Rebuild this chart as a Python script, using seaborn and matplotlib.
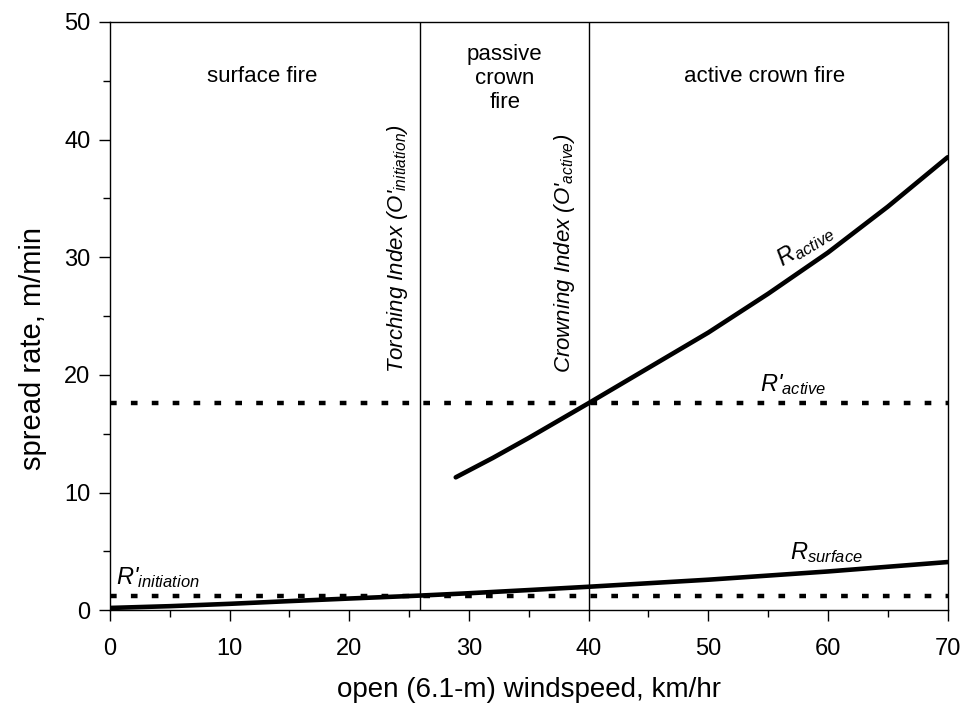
import matplotlib
matplotlib.use("Agg")
import matplotlib.pyplot as plt
from matplotlib.ticker import MultipleLocator
import seaborn as sns
import pandas as pd

# ---- data ----
surface_x = [0, 5, 10, 15, 20, 25.9, 30, 35, 40, 45, 50, 55, 60, 65, 70]
surface_y = [0.2, 0.35, 0.55, 0.78, 1.0, 1.25, 1.45, 1.72, 2.0, 2.3, 2.6, 2.95, 3.3, 3.7, 4.1]
active_x = [28.9, 32, 35, 40, 45, 50, 55, 60, 65, 70]
active_y = [11.3, 12.95, 14.65, 17.6, 20.6, 23.6, 26.9, 30.4, 34.3, 38.5]
r_initiation = 1.25
r_active_crit = 17.6
torching_index = 25.9
crowning_index = 40.0
x_ticks = [0, 10, 20, 30, 40, 50, 60, 70]
y_ticks = [0, 10, 20, 30, 40, 50]

sns.set_theme(style="ticks")
plt.rcParams["font.family"] = ["Liberation Sans", "DejaVu Sans"]
plt.rcParams["mathtext.fontset"] = "custom"
plt.rcParams["mathtext.rm"] = "Liberation Sans"
plt.rcParams["mathtext.it"] = "Liberation Sans:italic"
plt.rcParams["mathtext.default"] = "it"
plt.rcParams["text.color"] = "black"
plt.rcParams["axes.labelcolor"] = "black"

fig = plt.figure(figsize=(9.64, 7.08), dpi=100)
ax = fig.add_axes([0.114, 0.138, 0.869, 0.831])

surf = pd.DataFrame({"x": surface_x, "y": surface_y})
act = pd.DataFrame({"x": active_x, "y": active_y})
sns.lineplot(data=surf, x="x", y="y", ax=ax, color="black", lw=3.3, sort=True)
sns.lineplot(data=act, x="x", y="y", ax=ax, color="black", lw=3.3, sort=True)

dots = (0, (1.5, 3.2))
ax.axhline(r_initiation, color="black", lw=3.2, ls=dots, dash_capstyle="butt")
ax.axhline(r_active_crit, color="black", lw=3.2, ls=dots, dash_capstyle="butt")
ax.axvline(torching_index, color="black", lw=1.0)
ax.axvline(crowning_index, color="black", lw=1.0)

ax.set_xlim(0, 70)
ax.set_ylim(0, 50)
ax.set_xticks(x_ticks)
ax.set_yticks(y_ticks)
ax.xaxis.set_minor_locator(MultipleLocator(5))
ax.yaxis.set_minor_locator(MultipleLocator(5))
ax.tick_params(which="major", direction="out", length=8, width=1, labelsize=17,
               color="black", labelcolor="black")
ax.tick_params(which="minor", direction="out", length=5, width=1, color="black")
ax.tick_params(axis="x", which="major", pad=12)
ax.tick_params(axis="y", which="major", pad=6)
for s in ax.spines.values():
    s.set_visible(True)
    s.set_color("black")
    s.set_linewidth(1.0)

ax.set_xlabel("open (6.1-m) windspeed, km/hr", fontsize=20, color="black", va="center")
ax.set_ylabel("spread rate, m/min", fontsize=21, color="black", va="center")
ax.xaxis.set_label_coords(0.5, -0.136)
ax.yaxis.set_label_coords(-0.092, 0.445)

# region labels
ax.text(12.7, 45.4, "surface fire", fontsize=16, ha="center", va="center", color="black")
ax.text(33.0, 45.2, "passive\ncrown\nfire", fontsize=16, ha="center", va="center",
        linespacing=1.2, color="black")
ax.text(54.7, 45.4, "active crown fire", fontsize=16, ha="center", va="center", color="black")

# index labels
ax.text(24.0, 20.2, "Torching Index (O'$_{initiation}$)", fontsize=16, style="italic",
        rotation=90, ha="center", va="bottom", color="black")
ax.text(38.0, 20.2, "Crowning Index (O'$_{active}$)", fontsize=16, style="italic",
        rotation=90, ha="center", va="bottom", color="black")

# curve labels
ax.text(58.1, 31.0, "R$_{active}$", fontsize=17, style="italic", rotation=31,
        ha="center", va="center", color="black")
ax.text(57.1, 19.2, "R'$_{active}$", fontsize=17, style="italic", ha="center", va="center",
        color="black")
ax.text(59.9, 4.9, "R$_{surface}$", fontsize=17, style="italic", ha="center", va="center",
        color="black")
ax.text(4.0, 2.8, "R'$_{initiation}$", fontsize=17, style="italic", ha="center", va="center",
        color="black")

fig.savefig("out.png", dpi=100)
